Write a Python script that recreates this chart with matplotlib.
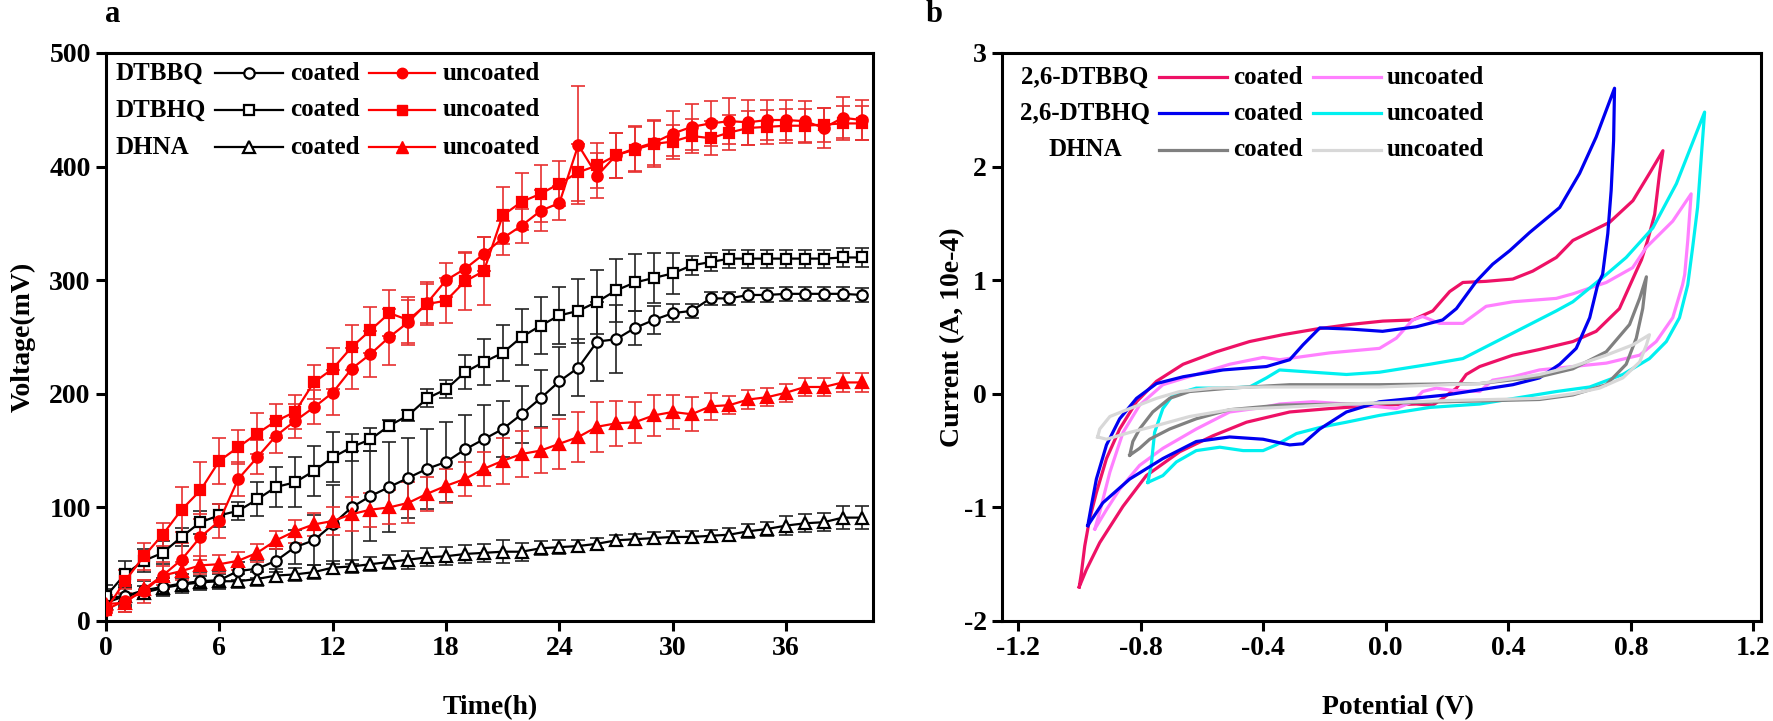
import matplotlib
matplotlib.use("Agg")
import matplotlib.pyplot as plt
from matplotlib.lines import Line2D

plt.rcParams['font.family'] = ['Liberation Serif', 'DejaVu Serif']
plt.rcParams['font.weight'] = 'bold'
plt.rcParams['axes.unicode_minus'] = False

# ---------------- Panel a data ----------------
hours = list(range(41))
dtbbq_coated = [20, 22, 27, 30, 33, 35, 36, 44, 46, 53, 65, 71, 85, 100, 110, 118, 126, 134, 140, 151, 160,
                169, 182, 196, 211, 223, 246, 248, 258, 265, 271, 273, 284, 284, 287, 287, 288, 288, 288, 288, 287]
dtbbq_coated_err = [8, 8, 8, 8, 8, 8, 8, 8, 8, 10, 15, 22, 35, 50, 40, 40, 35, 35, 35, 30, 30,
                    25, 25, 25, 30, 25, 35, 30, 15, 12, 8, 6, 6, 6, 6, 6, 6, 6, 6, 6, 6]
dtbhq_coated = [22, 41, 53, 60, 74, 87, 93, 97, 107, 118, 122, 132, 144, 153, 160, 172, 181, 196, 204, 219, 228,
                236, 250, 260, 269, 273, 281, 291, 298, 302, 306, 313, 316, 319, 319, 319, 319, 319, 319, 320, 320]
dtbhq_coated_err = [10, 12, 10, 10, 8, 10, 10, 8, 15, 18, 22, 22, 22, 12, 10, 5, 5, 8, 8, 15, 20,
                    25, 25, 25, 25, 28, 28, 28, 25, 22, 18, 8, 8, 8, 8, 8, 8, 8, 8, 8, 8]
dhna_coated = [16, 22, 25, 29, 32, 34, 35, 35, 37, 40, 41, 43, 47, 48, 50, 52, 54, 56, 57, 59, 60,
               61, 61, 64, 65, 66, 68, 71, 72, 73, 74, 74, 75, 76, 79, 81, 84, 86, 87, 91, 91]
dhna_coated_err = [5, 10, 6, 6, 6, 6, 6, 6, 6, 6, 6, 6, 6, 6, 6, 6, 8, 8, 8, 8, 8,
                   10, 8, 6, 6, 5, 5, 5, 5, 5, 5, 5, 5, 6, 6, 6, 8, 8, 8, 10, 10]
dtbbq_uncoated = [10, 18, 26, 40, 54, 74, 88, 125, 144, 163, 176, 188, 201, 222, 235, 250, 263, 280, 300, 310, 323,
                  337, 348, 361, 368, 419, 392, 410, 416, 421, 429, 435, 438, 440, 439, 441, 441, 440, 434, 443, 441]
dtbbq_uncoated_err = [10, 10, 10, 12, 15, 20, 15, 15, 15, 15, 15, 15, 20, 18, 20, 25, 20, 18, 15, 15, 15,
                      15, 15, 18, 15, 52, 20, 20, 20, 20, 20, 20, 20, 20, 20, 18, 18, 18, 18, 18, 18]
dtbhq_uncoated = [10, 35, 57, 76, 98, 115, 141, 153, 165, 176, 184, 210, 222, 241, 256, 271, 265, 279, 282, 299, 308,
                  357, 369, 376, 385, 395, 401, 410, 415, 420, 422, 427, 425, 430, 434, 435, 436, 436, 437, 438, 438]
dtbhq_uncoated_err = [10, 10, 12, 10, 20, 25, 20, 15, 18, 15, 15, 15, 18, 20, 20, 20, 20, 18, 20, 25, 30,
                      25, 25, 25, 20, 25, 20, 20, 20, 20, 15, 15, 15, 15, 15, 15, 15, 15, 15, 15, 15]
dhna_uncoated = [15, 16, 28, 40, 44, 49, 50, 53, 60, 71, 79, 85, 88, 94, 98, 100, 104, 112, 119, 125, 134,
                 141, 147, 150, 156, 162, 171, 174, 175, 181, 184, 182, 189, 190, 195, 197, 201, 206, 206, 210, 210]
dhna_uncoated_err = [8, 8, 8, 8, 8, 8, 8, 8, 8, 8, 10, 10, 12, 15, 15, 15, 18, 15, 15, 15, 15,
                     20, 20, 20, 22, 22, 22, 20, 18, 18, 15, 15, 12, 8, 8, 8, 8, 8, 8, 8, 8]

compounds_a = ['DTBBQ', 'DTBHQ', 'DHNA']
x_ticks_a = [0, 6, 12, 18, 24, 30, 36]
y_ticks_a = [0, 100, 200, 300, 400, 500]

# ---------------- Panel b data ----------------
cv_dtbbq_coated_v = [-1.0, -0.993, -0.982, -0.966, -0.944, -0.911, -0.868, -0.813, -0.748, -0.661, -0.552, -0.444,
                     -0.336, -0.227, -0.117, -0.009, 0.088, 0.154, 0.209, 0.252, 0.328, 0.415, 0.48, 0.557, 0.611,
                     0.731, 0.807, 0.861, 0.905,
                     0.894, 0.878, 0.855, 0.835, 0.818, 0.763, 0.687, 0.611, 0.502, 0.415, 0.307, 0.263, 0.231,
                     0.186, 0.154, 0.10, -0.02, -0.183, -0.313, -0.454, -0.564, -0.672, -0.781, -0.857, -0.933,
                     -0.977, -1.0]
cv_dtbbq_coated_i = [-1.70, -1.58, -1.34, -1.10, -0.87, -0.57, -0.31, -0.07, 0.11, 0.26, 0.37, 0.46,
                     0.52, 0.57, 0.61, 0.64, 0.65, 0.73, 0.90, 0.98, 0.99, 1.01, 1.08, 1.20, 1.35,
                     1.51, 1.70, 1.94, 2.14,
                     1.94, 1.58, 1.35, 1.18, 1.08, 0.75, 0.55, 0.46, 0.39, 0.34, 0.24, 0.17, 0.05,
                     -0.04, -0.10, -0.09, -0.10, -0.13, -0.16, -0.25, -0.37, -0.51, -0.72, -0.99, -1.31,
                     -1.55, -1.70]
cv_dtbbq_uncoated_v = [-0.949, -0.933, -0.90, -0.857, -0.803, -0.727, -0.618, -0.509, -0.40, -0.346, -0.183, -0.02,
                       0.035, 0.088, 0.121, 0.176, 0.252, 0.328, 0.415, 0.557, 0.611, 0.72, 0.806, 0.851, 0.937,
                       0.997,
                       0.986, 0.976, 0.969, 0.937, 0.883, 0.829, 0.72, 0.611, 0.502, 0.415, 0.349, 0.307, 0.219,
                       0.165, 0.121, 0.088, 0.035, -0.075, -0.238, -0.346, -0.40, -0.509, -0.618, -0.727, -0.803,
                       -0.868, -0.911, -0.949]
cv_dtbbq_uncoated_i = [-1.19, -1.04, -0.69, -0.34, -0.10, 0.08, 0.17, 0.26, 0.32, 0.30, 0.36, 0.40,
                       0.49, 0.65, 0.68, 0.62, 0.62, 0.77, 0.81, 0.84, 0.88, 0.98, 1.11, 1.29, 1.52,
                       1.76,
                       1.35, 1.05, 0.96, 0.67, 0.46, 0.34, 0.27, 0.24, 0.21, 0.15, 0.12, 0.02, 0.03,
                       0.05, 0.02, -0.07, -0.13, -0.10, -0.07, -0.09, -0.12, -0.16, -0.31, -0.48, -0.63,
                       -0.84, -1.02, -1.19]
cv_dtbhq_coated_v = [-0.972, -0.960, -0.944, -0.911, -0.868, -0.813, -0.748, -0.661, -0.531, -0.389, -0.313, -0.27,
                     -0.215, -0.117, -0.01, 0.10, 0.186, 0.231, 0.296, 0.349, 0.405, 0.470, 0.568, 0.633, 0.687,
                     0.747,
                     0.744, 0.736, 0.725, 0.708, 0.692, 0.666, 0.622, 0.568, 0.502, 0.415, 0.198, -0.02, -0.128,
                     -0.215, -0.27, -0.313, -0.40, -0.509, -0.618, -0.727, -0.835, -0.923, -0.972]
cv_dtbhq_coated_i = [-1.16, -0.98, -0.75, -0.45, -0.22, -0.04, 0.09, 0.15, 0.21, 0.24, 0.30, 0.43,
                     0.58, 0.57, 0.55, 0.59, 0.65, 0.75, 0.99, 1.14, 1.26, 1.42, 1.64, 1.94, 2.26,
                     2.69,
                     2.23, 1.79, 1.41, 1.05, 0.96, 0.67, 0.40, 0.26, 0.14, 0.08, -0.01, -0.07, -0.16,
                     -0.31, -0.44, -0.45, -0.40, -0.38, -0.42, -0.57, -0.75, -0.96, -1.16]
cv_dtbhq_uncoated_v = [-0.776, -0.765, -0.754, -0.727, -0.694, -0.618, -0.531, -0.444, -0.389, -0.346, -0.238,
                       -0.128, -0.02, 0.144, 0.252, 0.361, 0.47, 0.557, 0.611, 0.72, 0.785, 0.872, 0.949, 1.041,
                       1.03, 1.018, 1.002, 0.986, 0.959, 0.916, 0.861, 0.774, 0.666, 0.557, 0.307, 0.144, -0.02,
                       -0.128, -0.205, -0.291, -0.357, -0.40, -0.465, -0.541, -0.618, -0.683, -0.727, -0.776]
cv_dtbhq_uncoated_i = [-0.78, -0.63, -0.34, -0.13, -0.01, 0.05, 0.05, 0.06, 0.14, 0.21, 0.19,
                       0.17, 0.19, 0.26, 0.31, 0.46, 0.61, 0.73, 0.81, 1.05, 1.20, 1.46, 1.85, 2.48,
                       2.08, 1.64, 1.29, 0.96, 0.67, 0.46, 0.31, 0.17, 0.06, 0.02, -0.09, -0.12, -0.19,
                       -0.25, -0.29, -0.35, -0.45, -0.50, -0.50, -0.47, -0.50, -0.60, -0.72, -0.78]
cv_dhna_coated_v = [-0.835, -0.825, -0.803, -0.76, -0.705, -0.64, -0.509, -0.313, -0.02, 0.307, 0.502, 0.611,
                    0.72, 0.796, 0.829, 0.851,
                    0.839, 0.818, 0.785, 0.72, 0.611, 0.502, 0.198, -0.128, -0.346, -0.509, -0.618, -0.705,
                    -0.77, -0.803, -0.835]
cv_dhna_coated_i = [-0.54, -0.42, -0.31, -0.16, -0.04, 0.02, 0.05, 0.08, 0.08, 0.09, 0.15, 0.22,
                    0.37, 0.61, 0.84, 1.03,
                    0.75, 0.49, 0.26, 0.08, -0.01, -0.05, -0.07, -0.09, -0.10, -0.14, -0.22, -0.31,
                    -0.40, -0.48, -0.54]
cv_dhna_uncoated_v = [-0.94, -0.933, -0.90, -0.835, -0.748, -0.672, -0.564, -0.40, -0.02, 0.307, 0.502, 0.611,
                      0.72, 0.806, 0.861,
                      0.851, 0.829, 0.774, 0.698, 0.611, 0.502, 0.198, -0.128, -0.346, -0.509, -0.64, -0.748,
                      -0.835, -0.911, -0.94]
cv_dhna_uncoated_i = [-0.38, -0.31, -0.20, -0.13, -0.04, 0.02, 0.05, 0.06, 0.06, 0.09, 0.17, 0.24,
                      0.34, 0.43, 0.52,
                      0.43, 0.28, 0.14, 0.05, 0.0, -0.04, -0.06, -0.09, -0.12, -0.14, -0.20, -0.28,
                      -0.34, -0.40, -0.38]

compounds_b = ['2,6-DTBBQ', '2,6-DTBHQ', 'DHNA']
x_ticks_b = [-1.2, -0.8, -0.4, 0.0, 0.4, 0.8, 1.2]
y_ticks_b = [-2, -1, 0, 1, 2, 3]

# ---------------- Figure ----------------
W, H = 1773, 721
fig = plt.figure(figsize=(W / 100, H / 100), dpi=100)


def fx(px):
    return px / W


def fy(py):
    return 1 - py / H


axa = fig.add_axes([fx(106), fy(621), fx(873) - fx(106), fy(53) - fy(621)])
axb = fig.add_axes([fx(1002), fy(621), fx(1761) - fx(1002), fy(53) - fy(621)])

RED = '#FF0000'
BLK = '#000000'
lw_line = 1.6
ms = 7.5


def series(ax, y, err, color, marker, filled, size):
    ecol = '#E83030' if color == RED else '#222222'
    ax.errorbar(hours, y, yerr=err, fmt='none', ecolor=ecol, elinewidth=1.2,
                capsize=5, capthick=1.2, zorder=2)
    ax.plot(hours, y, color=color, lw=lw_line, marker=marker, markersize=size,
            markerfacecolor=(color if filled else 'white'), markeredgecolor=color,
            markeredgewidth=1.6, zorder=3)


series(axa, dhna_coated, dhna_coated_err, BLK, '^', False, 8)
series(axa, dtbbq_coated, dtbbq_coated_err, BLK, 'o', False, ms)
series(axa, dtbhq_coated, dtbhq_coated_err, BLK, 's', False, 6.5)
series(axa, dhna_uncoated, dhna_uncoated_err, RED, '^', True, 8)
series(axa, dtbhq_uncoated, dtbhq_uncoated_err, RED, 's', True, 6.5)
series(axa, dtbbq_uncoated, dtbbq_uncoated_err, RED, 'o', True, ms)

axa.set_xlim(0, 40.6)
axa.set_ylim(0, 500)
axa.set_xticks(x_ticks_a)
axa.set_yticks(y_ticks_a)

# Panel b curves
lw_cv = 2.3
axb.plot(cv_dtbbq_coated_v, cv_dtbbq_coated_i, color='#EE1166', lw=lw_cv, zorder=2)
axb.plot(cv_dtbbq_uncoated_v, cv_dtbbq_uncoated_i, color='#FF80FF', lw=lw_cv, zorder=3)
axb.plot(cv_dtbhq_uncoated_v, cv_dtbhq_uncoated_i, color='#00F0F0', lw=lw_cv, zorder=3)
axb.plot(cv_dtbhq_coated_v, cv_dtbhq_coated_i, color='#0000F0', lw=lw_cv, zorder=4)
axb.plot(cv_dhna_coated_v, cv_dhna_coated_i, color='#808080', lw=lw_cv, zorder=5)
axb.plot(cv_dhna_uncoated_v, cv_dhna_uncoated_i, color='#D8D8D8', lw=lw_cv, zorder=6)

axb.set_xlim(-1.252, 1.225)
axb.set_ylim(-2, 3)
axb.set_xticks(x_ticks_b)
axb.set_xticklabels([f"{v:.1f}" for v in x_ticks_b])
axb.set_yticks(y_ticks_b)
axb.set_yticklabels([str(v) for v in y_ticks_b])

for ax in (axa, axb):
    for s in ax.spines.values():
        s.set_linewidth(2.2)
    ax.tick_params(direction='out', length=7, width=2.2, labelsize=20, pad=4)
    for lab in ax.get_xticklabels() + ax.get_yticklabels():
        lab.set_fontweight('bold')
        lab.set_fontsize(20)

# axis labels
fig.text(fx(23), fy(337), 'Voltage(mV)', rotation=90, ha='center', va='center', fontsize=20, fontweight='bold')
fig.text(fx(490), fy(708), 'Time(h)', ha='center', va='center', fontsize=20, fontweight='bold')
fig.text(fx(953), fy(337), 'Current (A, 10e-4)', rotation=90, ha='center', va='center', fontsize=20, fontweight='bold')
fig.text(fx(1398), fy(708), 'Potential (V)', ha='center', va='center', fontsize=20, fontweight='bold')

# panel letters
fig.text(fx(113), fy(14), 'a', ha='center', va='center', fontsize=22, fontweight='bold')
fig.text(fx(934), fy(14), 'b', ha='center', va='center', fontsize=22, fontweight='bold')

# legend a
rows_a = [73, 110, 147]
mk_a = ['o', 's', '^']
msz_a = [ms, 6.5, 8]
for name, yrow, mk, sz in zip(compounds_a, rows_a, mk_a, msz_a):
    fig.text(fx(116), fy(yrow), name, ha='left', va='center', fontsize=18, fontweight='bold')
    fig.add_artist(Line2D([fx(215), fx(283)], [fy(yrow), fy(yrow)], color=BLK, lw=lw_line,
                          transform=fig.transFigure))
    fig.add_artist(Line2D([fx(249)], [fy(yrow)], color=BLK, marker=mk, markersize=sz,
                          markerfacecolor='white', markeredgewidth=1.6, transform=fig.transFigure))
    fig.text(fx(290), fy(yrow), 'coated', ha='left', va='center', fontsize=18, fontweight='bold')
    fig.add_artist(Line2D([fx(369), fx(435)], [fy(yrow), fy(yrow)], color=RED, lw=lw_line,
                          transform=fig.transFigure))
    fig.add_artist(Line2D([fx(402)], [fy(yrow)], color=RED, marker=mk, markersize=sz,
                          markerfacecolor=RED, markeredgecolor=RED, transform=fig.transFigure))
    fig.text(fx(443), fy(yrow), 'uncoated', ha='left', va='center', fontsize=18, fontweight='bold')

# legend b
rows_b = [77, 113, 150]
cols_coated = ['#EE1166', '#0000F0', '#808080']
cols_uncoated = ['#FF80FF', '#00F0F0', '#D8D8D8']
for name, yrow, cc, cu in zip(compounds_b, rows_b, cols_coated, cols_uncoated):
    fig.text(fx(1085), fy(yrow), name, ha='center', va='center', fontsize=18, fontweight='bold')
    fig.add_artist(Line2D([fx(1159), fx(1227)], [fy(yrow), fy(yrow)], color=cc, lw=lw_cv,
                          transform=fig.transFigure))
    fig.text(fx(1233), fy(yrow), 'coated', ha='left', va='center', fontsize=18, fontweight='bold')
    fig.add_artist(Line2D([fx(1313), fx(1381)], [fy(yrow), fy(yrow)], color=cu, lw=lw_cv,
                          transform=fig.transFigure))
    fig.text(fx(1387), fy(yrow), 'uncoated', ha='left', va='center', fontsize=18, fontweight='bold')

fig.savefig('out.png', dpi=100, facecolor='white')
